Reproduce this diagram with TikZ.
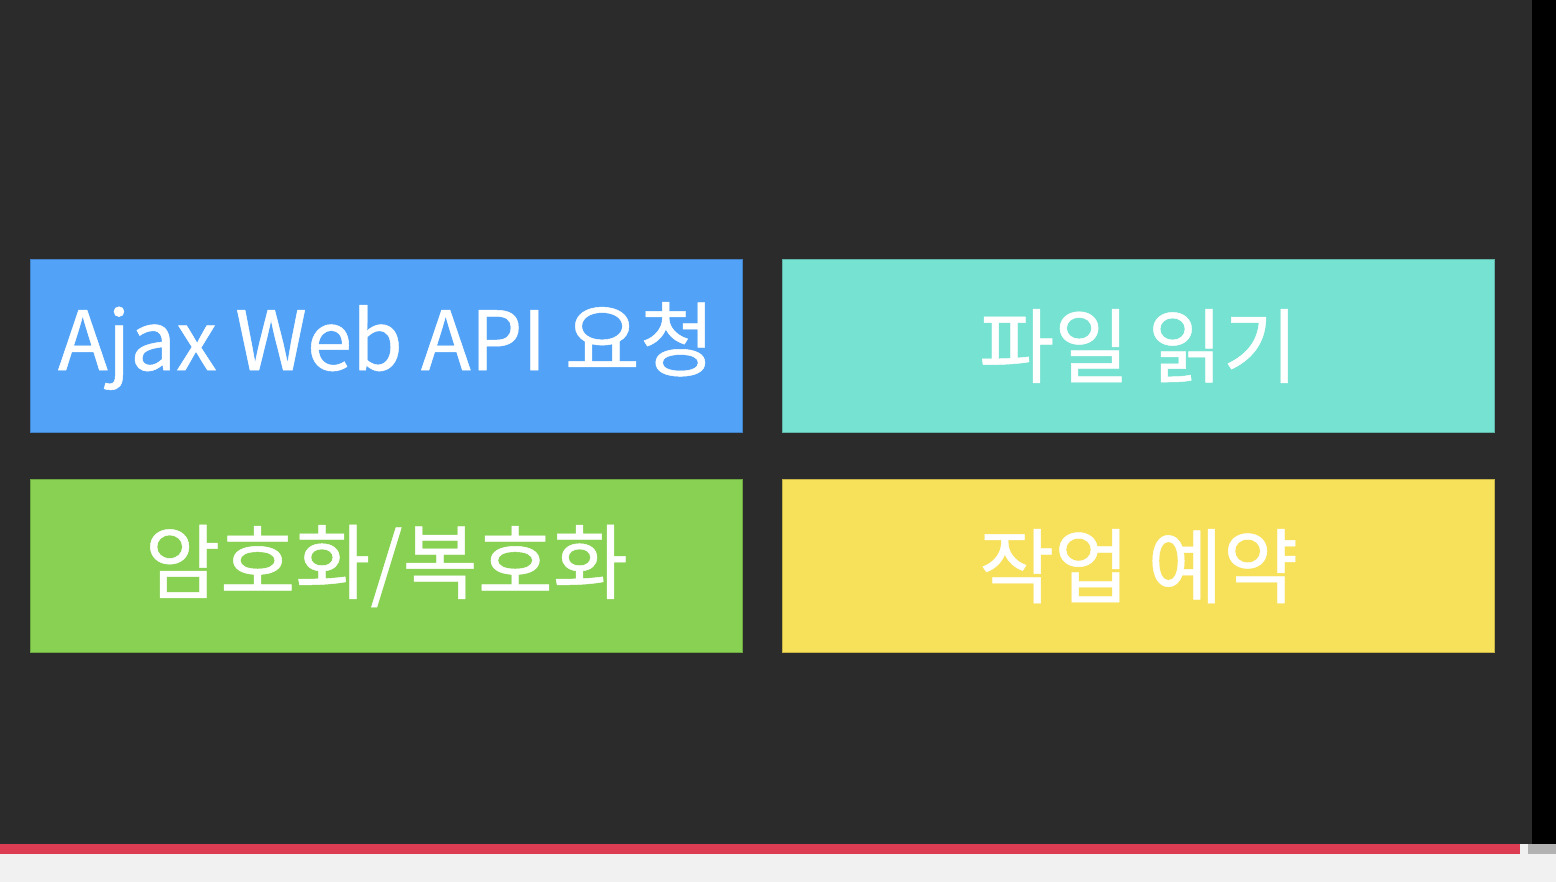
\documentclass[tikz,border=0pt]{standalone}
\usepackage{fontspec}
\newfontfamily\kofont[FakeBold=0.6]{Noto Sans CJK KR}
\usepackage{tikz}
\usetikzlibrary{positioning}
\definecolor{slidebg}{HTML}{2B2B2B}
\definecolor{ajaxblue}{HTML}{52A3F7}
\definecolor{fileteal}{HTML}{76E2D2}
\definecolor{cryptgreen}{HTML}{88D152}
\definecolor{jobyellow}{HTML}{F7E15A}
\definecolor{progressred}{HTML}{DC3D52}
\definecolor{barbg}{HTML}{F1F1F1}
\tikzset{
    task box/.style={
        rectangle, draw=#1!80!black, fill=#1, line width=0.6pt,
        minimum width=14.24cm, minimum height=3.46cm,
        inner sep=0pt, align=center, text=white,
        font=\kofont\fontsize{46.5}{50}\selectfont
    },
}

\begin{document}
\begin{tikzpicture}
    % screen background
    \fill[slidebg] (0,0) rectangle (30.64,17.64);
    \fill[black] (30.64,0) rectangle (31.12,17.64);
    \fill[barbg] (0,0) rectangle (31.12,0.76);
    \fill[progressred] (0,0.56) rectangle (30.40,0.76);
    \fill[black!30] (30.56,0.56) rectangle (31.12,0.76);
    \useasboundingbox (0,0) rectangle (31.12,17.64);

    \node[task box=ajaxblue, anchor=north west] (ajax) at (0.60,12.46) {Ajax Web API 요청};
    \node[task box=fileteal, right=0.78cm of ajax] (file) {파일 읽기};
    \node[task box=cryptgreen, below=0.92cm of ajax] (crypt) {암호화/복호화};
    \node[task box=jobyellow, below=0.92cm of file] (job) {작업 예약};
\end{tikzpicture}
\end{document}
